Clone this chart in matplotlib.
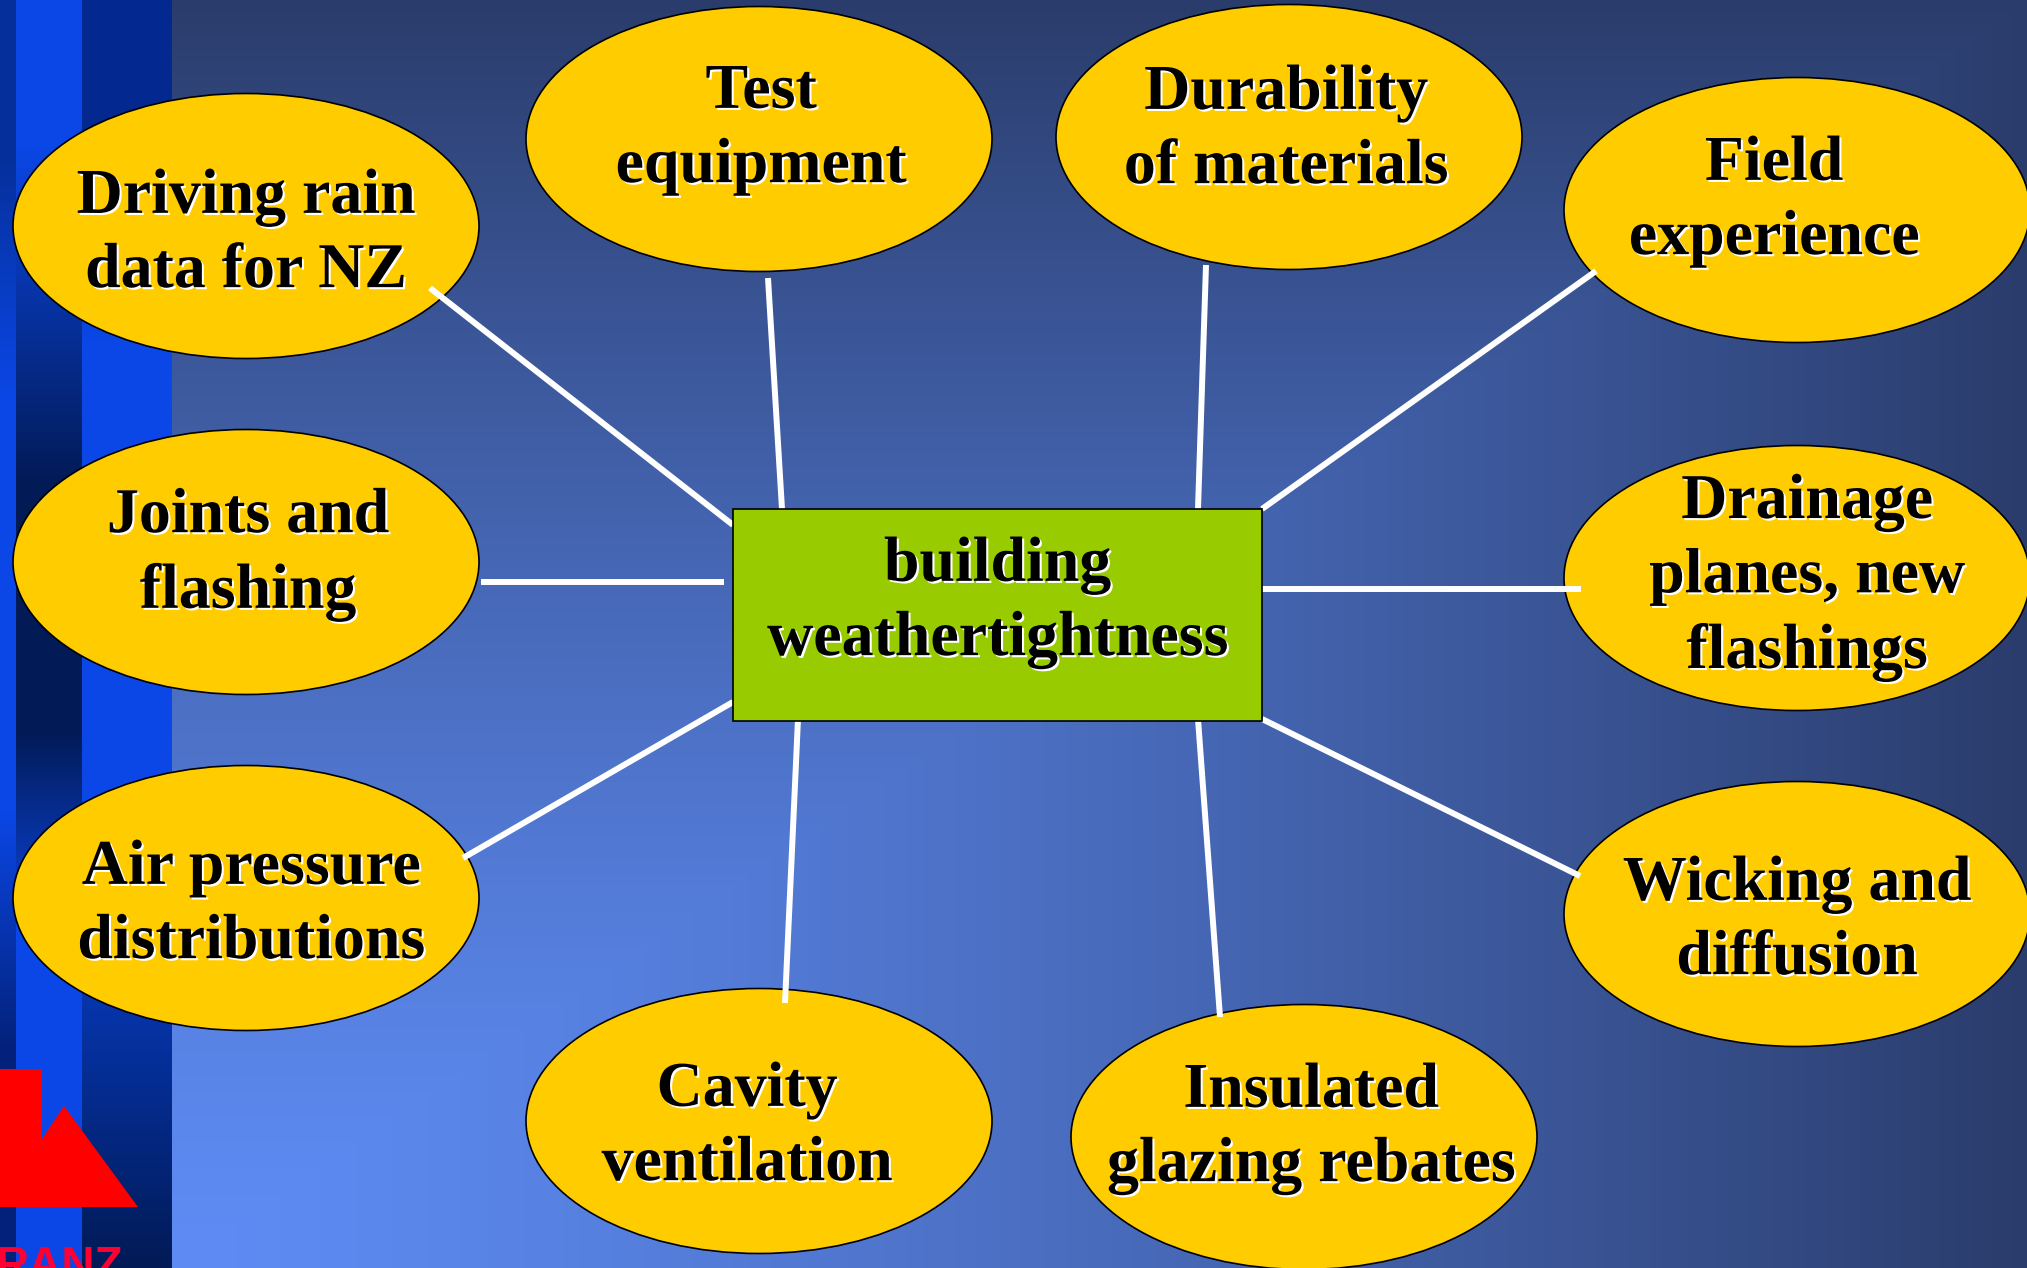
import numpy as np
import matplotlib
matplotlib.use("Agg")
import matplotlib.pyplot as plt
from matplotlib.patches import Ellipse, Rectangle, Polygon
import matplotlib.patheffects as pe

W, H = 2027, 1268

# topics around the central box
labels = [
    "Driving rain\ndata for NZ",
    "Test\nequipment",
    "Durability\nof materials",
    "Field\nexperience",
    "Joints and\nflashing",
    "Drainage\nplanes, new\nflashings",
    "Air pressure\ndistributions",
    "Cavity\nventilation",
    "Insulated\nglazing rebates",
    "Wicking and\ndiffusion",
]
center_label = "building\nweathertightness"

# layout (pixel coords, y down)
ell_x = [246, 759, 1289, 1797, 246, 1797, 246, 759, 1304, 1797]
ell_y = [226, 139, 137, 210, 562, 578, 898, 1121, 1137, 914]
txt_x = [246, 761, 1286, 1774, 248, 1807, 251, 747, 1311, 1797]
txt_y = [235, 130, 131, 202, 555, 578, 906, 1128, 1129, 922]
ell_w, ell_h = 466, 265

# connector lines: start (at ellipse) -> end (at box)
line_x0 = [430, 768, 1206, 1596, 481, 1581, 463, 785, 1220, 1580]
line_y0 = [288, 278, 265, 271, 582, 589, 858, 1003, 1017, 876]
line_x1 = [733, 782, 1198, 1262, 724, 1262, 733, 798, 1198, 1262]
line_y1 = [525, 509, 509, 509, 582, 589, 702, 719, 719, 719]

box = (733, 509, 529, 212)  # x, y, w, h


def hex2rgb(h):
    h = h.lstrip("#")
    return np.array([int(h[i:i + 2], 16) for i in (0, 2, 4)]) / 255.0


# background: rectangular gradient from the bottom-left
yy, xx = np.mgrid[0:H, 0:W]
t = np.maximum((xx - 172) / (W - 172), (H - yy) / H)
t = np.clip(t, 0, 1) ** 1.3
light, dark = hex2rgb("#5e8cf4"), hex2rgb("#2a3c6b")
bg = light[None, None, :] * (1 - t[..., None]) + dark[None, None, :] * t[..., None]

# left decorative stripes
bright = hex2rgb("#0b47e6")
navy = hex2rgb("#021a55")
mid = hex2rgb("#05309c")
mid2 = hex2rgb("#03288f")
dark2 = hex2rgb("#03217a")


def column(ys, cols):
    cols = np.array(cols)
    y = np.arange(H)
    return np.stack([np.interp(y, ys, cols[:, k]) for k in range(3)], axis=1)


colA = column([0, 160, 400, 810, 1050, 1268], [mid, mid, bright, bright, dark2, dark2])
colB = column([0, 145, 485, 730, 930, 1268], [bright, bright, navy, navy, bright, bright])
colC = column([0, 150, 340, 800, 1050, 1268], [mid2, mid2, bright, bright, mid, navy])
bg[:, 0:16] = colA[:, None, :]
bg[:, 16:82] = colB[:, None, :]
bg[:, 82:172] = colC[:, None, :]

fig = plt.figure(figsize=(W / 100, H / 100), dpi=100)
ax = fig.add_axes([0, 0, 1, 1])
ax.set_xlim(0, W)
ax.set_ylim(H, 0)
ax.axis("off")
ax.imshow(bg, extent=(0, W, H, 0), aspect="auto", zorder=0, interpolation="nearest")

# logo (cut off at the slide edge, as in the original)
ax.add_patch(Polygon([(0, 1069), (42, 1069), (42, 1139), (64, 1106), (138, 1207), (0, 1207)],
                     closed=True, facecolor="#ff0000", edgecolor="none", zorder=1))
ax.text(-4, 1245, "RANZ", color="#ff0033", fontsize=33, fontweight="bold",
        family="Liberation Sans", ha="left", va="top", zorder=1)

shadow = [pe.SimplePatchShadow(offset=(1.5, -1.5), shadow_rgbFace="white", alpha=1.0), pe.Normal()]
font = dict(family="Liberation Serif", fontweight="bold", fontsize=46, color="black",
            ha="center", va="center", linespacing=1.37)

for i, lab in enumerate(labels):
    ax.add_patch(Ellipse((ell_x[i], ell_y[i]), ell_w, ell_h, facecolor="#ffcc00",
                         edgecolor="black", linewidth=1.2, zorder=2))
    ax.plot([line_x0[i], line_x1[i]], [line_y0[i], line_y1[i]], color="white",
            linewidth=4.3, solid_capstyle="butt", zorder=3)
    ax.text(txt_x[i], txt_y[i], lab, zorder=4, path_effects=shadow, **font)

bx, by, bw, bh = box
ax.add_patch(Rectangle((bx, by), bw, bh, facecolor="#99cc00", edgecolor="black",
                       linewidth=1.2, zorder=4))
ax.text(bx + bw / 2, by + bh / 2 - 12, center_label, zorder=5, path_effects=shadow, **font)

fig.savefig("out.png", dpi=100)
